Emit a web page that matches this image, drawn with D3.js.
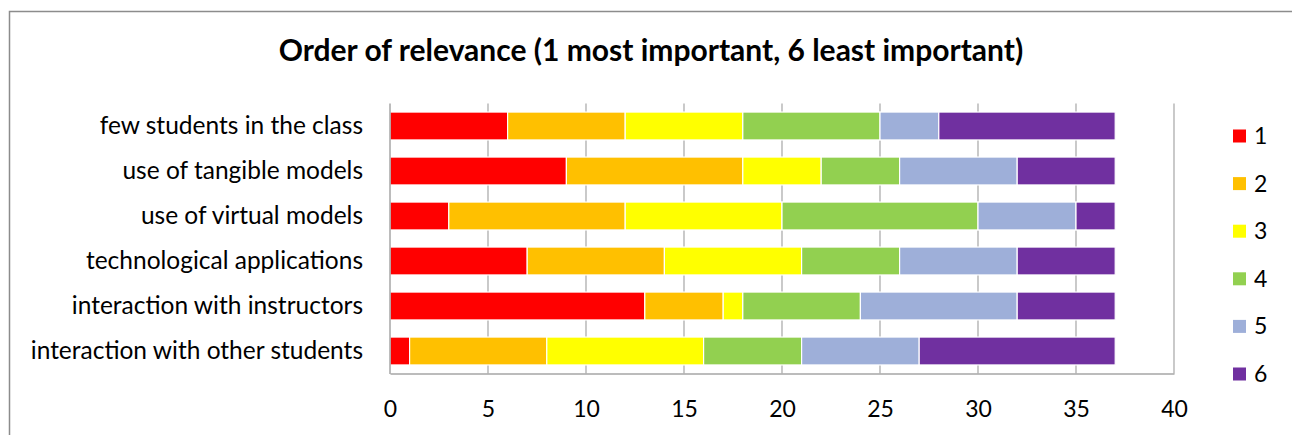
<!DOCTYPE html>
<html><head><meta charset="utf-8">
<script src="https://cdn.jsdelivr.net/npm/d3@7"></script>
<style>
html,body{margin:0;padding:0;background:#fff;}
text{font-family:Lato,"Open Sans",sans-serif;fill:#000;}
</style></head>
<body><svg id="c" width="1292" height="435"></svg>
<script>
const title = "Order of relevance (1 most important, 6 least important)";
const categories = ["few students in the class","use of tangible models","use of virtual models","technological applications","interaction with instructors","interaction with other students"];
const seriesNames = ["1","2","3","4","5","6"];
const colors = ["#FF0000","#FFC000","#FFFF00","#92D050","#9EAFD9","#7030A0"];
const s1 = [6, 9, 3, 7, 13, 1];
const s2 = [6, 9, 9, 7, 4, 7];
const s3 = [6, 4, 8, 7, 1, 8];
const s4 = [7, 4, 10, 5, 6, 5];
const s5 = [3, 6, 5, 6, 8, 6];
const s6 = [9, 5, 2, 5, 5, 10];
const xTicks = [0,5,10,15,20,25,30,35,40];

const series = [s1,s2,s3,s4,s5,s6];
const rows = categories.map((c,i)=>{const o={cat:c}; seriesNames.forEach((s,k)=>o[s]=series[k][i]); return o;});
const stacked = d3.stack().keys(seriesNames)(rows);

const svg = d3.select("#c");
svg.append("path").attr("d","M9.5,435 V11.5 H1292").attr("fill","none").attr("stroke","#8c8c8c").attr("stroke-width",1.5);

svg.append("text").attr("x",651).attr("y",61).attr("text-anchor","middle")
  .style("font-size","30px").style("font-weight","bold").text(title);

const x = d3.scaleLinear().domain([0,40]).range([390,1174]);
const y = d3.scaleBand().domain(categories).range([103.5,373.5]).paddingInner(0.38).paddingOuter(0.19);

svg.append("g").selectAll("line").data(xTicks.slice(1)).join("line")
  .attr("x1",d=>x(d)).attr("x2",d=>x(d)).attr("y1",103.5).attr("y2",373.5)
  .attr("stroke","#a6a6a6").attr("stroke-width",1.2);

svg.append("g").selectAll("g").data(stacked).join("g")
  .attr("fill",(d,i)=>colors[i])
  .selectAll("rect").data(d=>d).join("rect")
  .attr("x",d=>x(d[0])).attr("width",d=>x(d[1])-x(d[0]))
  .attr("y",d=>y(d.data.cat)).attr("height",y.bandwidth())
  .attr("stroke","#fff").attr("stroke-width",1.2);

svg.append("line").attr("x1",390).attr("x2",390).attr("y1",103.5).attr("y2",374)
  .attr("stroke","#a6a6a6").attr("stroke-width",1.5);
const xa = svg.append("g").attr("transform","translate(0,373.5)")
  .call(d3.axisBottom(x).tickValues(xTicks).tickSize(0).tickPadding(27));
xa.select(".domain").attr("stroke","#a6a6a6").attr("stroke-width",1.5);
xa.selectAll("text").style("font-size","23px").style("font-family","Lato,sans-serif").attr("fill","#000");

const ya = svg.append("g").attr("transform","translate(390,0)")
  .call(d3.axisLeft(y).tickSize(0).tickPadding(27));
ya.select(".domain").remove();
ya.selectAll("text").style("font-size","24.5px").style("font-family","Lato,sans-serif").attr("fill","#000");

const lg = svg.append("g").selectAll("g").data(seriesNames).join("g")
  .attr("transform",(d,i)=>`translate(1233,${136 + i*47.6})`);
lg.append("rect").attr("x",0).attr("y",-6.5).attr("width",13).attr("height",13).attr("fill",(d,i)=>colors[i]);
lg.append("text").attr("x",21).attr("y",0).attr("dy","0.35em").style("font-size","23px").text(d=>d);
</script></body></html>
